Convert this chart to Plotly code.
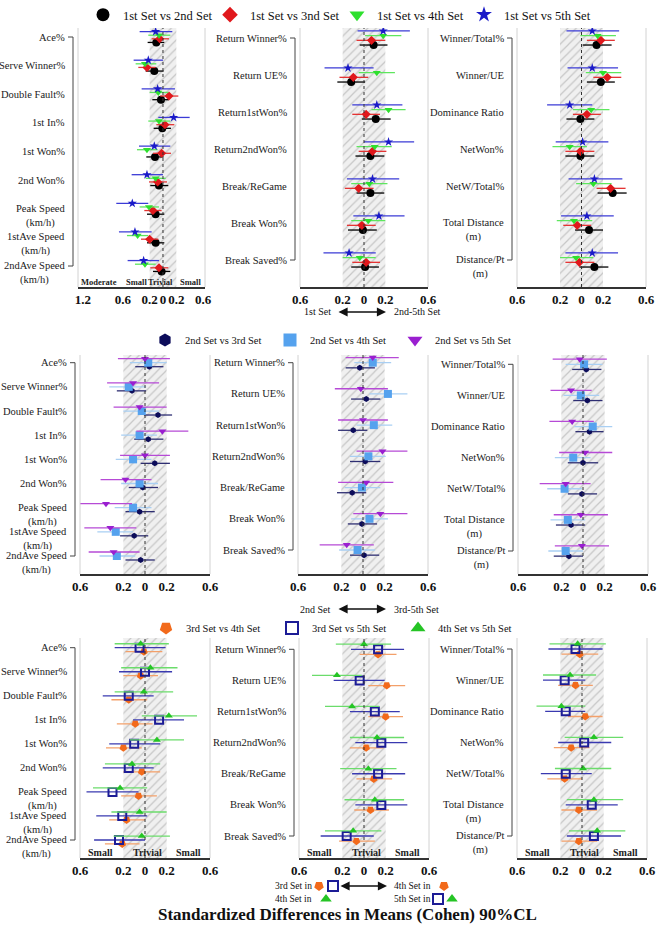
import plotly.graph_objects as go

W, H = 658, 930
FONT = "Liberation Serif, Times New Roman, serif"
TRIVIAL = 0.2

# ---------------- categories ----------------
SERVE_CATS = ["Ace%", "Serve Winner%", "Double Fault%", "1st In%", "1st Won%", "2nd Won%",
              "Peak Speed<br>(km/h)", "1stAve Speed<br>(km/h)", "2ndAve Speed<br>(km/h)"]
RETURN_CATS = ["Return Winner%", "Return UE%", "Return1stWon%", "Return2ndWon%",
               "Break/ReGame", "Break Won%", "Break Saved%"]
OVERALL_CATS = ["Winner/Total%", "Winner/UE", "Dominance Ratio", "NetWon%", "NetW/Total%",
                "Total Distance<br>(m)", "Distance/Pt<br>(m)"]

# ---------------- data: Cohen d (mean) and 90% CL ----------------
# 1st Set vs 2nd Set
v12_serve = [-0.10, -0.13, -0.03, -0.01, -0.12, -0.06, -0.11, -0.11, -0.02]
v12_serve_lo = [-0.23, -0.26, -0.16, -0.14, -0.25, -0.19, -0.24, -0.24, -0.15]
v12_serve_hi = [0.02, 0.01, 0.09, 0.12, 0.01, 0.08, 0.02, 0.02, 0.11]
v12_return = [0.09, -0.12, 0.11, 0.06, 0.06, -0.01, 0.01]
v12_return_lo = [-0.04, -0.25, -0.02, -0.08, -0.07, -0.15, -0.12]
v12_return_hi = [0.22, 0.01, 0.25, 0.19, 0.19, 0.12, 0.14]
v12_overall = [0.14, 0.18, -0.01, -0.01, 0.29, 0.07, 0.12]
v12_overall_lo = [0.01, 0.05, -0.14, -0.15, 0.15, -0.06, -0.02]
v12_overall_hi = [0.28, 0.31, 0.12, 0.12, 0.42, 0.20, 0.25]

# 1st Set vs 3rd Set
v13_serve = [-0.05, -0.24, 0.09, 0.03, -0.02, -0.08, -0.15, -0.20, -0.06]
v13_serve_lo = [-0.17, -0.37, -0.04, -0.10, -0.15, -0.21, -0.28, -0.33, -0.19]
v13_serve_hi = [0.09, -0.11, 0.23, 0.17, 0.12, 0.06, -0.02, -0.07, 0.08]
v13_return = [0.07, -0.10, 0.02, 0.08, -0.05, -0.02, 0.02]
v13_return_lo = [-0.07, -0.23, -0.11, -0.05, -0.18, -0.16, -0.11]
v13_return_hi = [0.20, 0.04, 0.15, 0.21, 0.09, 0.11, 0.15]
v13_overall = [0.18, 0.24, 0.05, -0.01, 0.27, -0.04, -0.02]
v13_overall_lo = [0.05, 0.11, -0.08, -0.15, 0.14, -0.17, -0.15]
v13_overall_hi = [0.31, 0.37, 0.18, 0.12, 0.41, 0.09, 0.12]

# 1st Set vs 4th Set
v14_serve = [-0.06, -0.27, -0.07, -0.06, -0.24, -0.11, -0.21, -0.38, -0.27]
v14_serve_lo = [-0.22, -0.41, -0.20, -0.22, -0.39, -0.26, -0.35, -0.54, -0.42]
v14_serve_hi = [0.11, -0.10, 0.08, 0.11, -0.08, 0.04, -0.06, -0.22, -0.11]
v14_return = [0.18, 0.12, 0.23, 0.10, 0.05, 0.04, -0.04]
v14_return_lo = [0.01, -0.05, 0.07, -0.07, -0.12, -0.12, -0.20]
v14_return_hi = [0.35, 0.29, 0.39, 0.26, 0.22, 0.20, 0.11]
v14_overall = [0.15, 0.20, 0.09, -0.11, 0.11, -0.07, -0.05]
v14_overall_lo = [-0.01, 0.04, -0.08, -0.27, -0.05, -0.23, -0.20]
v14_overall_hi = [0.32, 0.37, 0.26, 0.05, 0.28, 0.10, 0.11]

# 1st Set vs 5th Set
v15_serve = [-0.11, -0.22, -0.08, 0.16, -0.13, -0.24, -0.46, -0.42, -0.29]
v15_serve_lo = [-0.35, -0.44, -0.32, -0.07, -0.36, -0.47, -0.70, -0.66, -0.53]
v15_serve_hi = [0.14, 0.00, 0.18, 0.40, 0.11, 0.00, -0.22, -0.17, -0.06]
v15_return = [0.18, -0.15, 0.12, 0.23, 0.08, 0.14, -0.14]
v15_return_lo = [-0.06, -0.37, -0.11, 0.00, -0.16, -0.10, -0.38]
v15_return_hi = [0.43, 0.09, 0.36, 0.47, 0.33, 0.38, 0.11]
v15_overall = [0.10, 0.10, -0.11, 0.01, 0.12, 0.05, 0.10]
v15_overall_lo = [-0.14, -0.13, -0.32, -0.24, -0.12, -0.19, -0.15]
v15_overall_hi = [0.35, 0.34, 0.10, 0.25, 0.38, 0.30, 0.34]

# 2nd Set vs 3rd Set
v23_serve = [0.04, -0.12, 0.12, 0.03, 0.09, -0.02, -0.05, -0.10, -0.04]
v23_serve_lo = [-0.09, -0.26, -0.01, -0.10, -0.04, -0.15, -0.18, -0.23, -0.18]
v23_serve_hi = [0.17, 0.01, 0.25, 0.17, 0.23, 0.12, 0.09, 0.03, 0.09]
v23_return = [-0.03, 0.03, -0.09, 0.02, -0.10, -0.01, 0.01]
v23_return_lo = [-0.16, -0.11, -0.23, -0.12, -0.24, -0.14, -0.12]
v23_return_hi = [0.11, 0.16, 0.04, 0.16, 0.03, 0.13, 0.15]
v23_overall = [0.03, 0.04, 0.06, 0.00, -0.01, -0.11, -0.13]
v23_overall_lo = [-0.10, -0.09, -0.07, -0.14, -0.14, -0.25, -0.27]
v23_overall_hi = [0.17, 0.18, 0.19, 0.14, 0.13, 0.02, 0.00]

# 2nd Set vs 4th Set
v24_serve = [0.03, -0.15, -0.03, -0.05, -0.11, -0.05, -0.11, -0.27, -0.26]
v24_serve_lo = [-0.14, -0.33, -0.20, -0.22, -0.27, -0.22, -0.28, -0.44, -0.42]
v24_serve_hi = [0.20, 0.01, 0.13, 0.11, 0.06, 0.12, 0.06, -0.11, -0.09]
v24_return = [0.09, 0.23, 0.10, 0.05, -0.01, 0.06, -0.05]
v24_return_lo = [-0.08, 0.06, -0.06, -0.12, -0.17, -0.11, -0.22]
v24_return_hi = [0.26, 0.41, 0.27, 0.21, 0.16, 0.23, 0.11]
v24_overall = [0.01, -0.02, 0.09, -0.09, -0.17, -0.14, -0.16]
v24_overall_lo = [-0.16, -0.18, -0.08, -0.26, -0.33, -0.30, -0.32]
v24_overall_hi = [0.18, 0.15, 0.27, 0.07, -0.01, 0.02, 0.00]

# 2nd Set vs 5th Set
v25_serve = [0.00, -0.11, -0.05, 0.16, 0.00, -0.18, -0.36, -0.32, -0.29]
v25_serve_lo = [-0.25, -0.35, -0.29, -0.08, -0.23, -0.41, -0.60, -0.56, -0.52]
v25_serve_hi = [0.23, 0.13, 0.20, 0.40, 0.23, 0.06, -0.12, -0.08, -0.05]
v25_return = [0.09, -0.02, 0.00, 0.18, 0.03, 0.16, -0.15]
v25_return_lo = [-0.16, -0.26, -0.23, -0.06, -0.23, -0.09, -0.40]
v25_return_hi = [0.33, 0.23, 0.23, 0.41, 0.28, 0.41, 0.10]
v25_overall = [-0.03, -0.11, -0.10, 0.02, -0.16, -0.02, -0.01]
v25_overall_lo = [-0.28, -0.30, -0.31, -0.22, -0.40, -0.27, -0.26]
v25_overall_hi = [0.22, 0.08, 0.10, 0.27, 0.07, 0.23, 0.24]

# 3rd Set vs 4th Set
v34_serve = [-0.01, -0.04, -0.15, -0.09, -0.20, -0.03, -0.06, -0.17, -0.21]
v34_serve_lo = [-0.18, -0.20, -0.31, -0.26, -0.36, -0.20, -0.22, -0.33, -0.37]
v34_serve_hi = [0.16, 0.12, 0.02, 0.07, -0.03, 0.14, 0.11, 0.00, -0.05]
v34_return = [0.13, 0.21, 0.20, 0.02, 0.09, 0.06, -0.07]
v34_return_lo = [-0.04, 0.04, 0.04, -0.13, -0.07, -0.09, -0.23]
v34_return_hi = [0.30, 0.38, 0.36, 0.18, 0.26, 0.23, 0.10]
v34_overall = [-0.02, -0.06, 0.03, -0.10, -0.16, -0.03, -0.03]
v34_overall_lo = [-0.19, -0.22, -0.13, -0.26, -0.32, -0.19, -0.19]
v34_overall_hi = [0.15, 0.10, 0.19, 0.07, 0.00, 0.14, 0.14]

# 3rd Set vs 5th Set
v35_serve = [-0.05, 0.00, -0.15, 0.13, -0.10, -0.15, -0.30, -0.21, -0.24]
v35_serve_lo = [-0.28, -0.24, -0.39, -0.11, -0.33, -0.39, -0.54, -0.45, -0.47]
v35_serve_hi = [0.19, 0.25, 0.08, 0.36, 0.14, 0.08, -0.06, 0.02, 0.00]
v35_return = [0.13, -0.04, 0.10, 0.16, 0.13, 0.16, -0.16]
v35_return_lo = [-0.12, -0.28, -0.13, -0.08, -0.11, -0.08, -0.40]
v35_return_hi = [0.37, 0.19, 0.33, 0.40, 0.38, 0.40, 0.09]
v35_overall = [-0.06, -0.16, -0.15, 0.02, -0.15, 0.09, 0.11]
v35_overall_lo = [-0.31, -0.36, -0.34, -0.22, -0.38, -0.15, -0.14]
v35_overall_hi = [0.19, 0.03, 0.03, 0.27, 0.09, 0.33, 0.36]

# 4th Set vs 5th Set
v45_serve = [-0.04, 0.05, -0.01, 0.22, 0.11, -0.12, -0.23, -0.05, -0.03]
v45_serve_lo = [-0.28, -0.22, -0.28, -0.03, -0.14, -0.37, -0.48, -0.31, -0.29]
v45_serve_hi = [0.22, 0.30, 0.26, 0.48, 0.36, 0.14, 0.02, 0.20, 0.23]
v45_return = [0.00, -0.25, -0.11, 0.12, 0.04, 0.10, -0.10]
v45_return_lo = [-0.26, -0.48, -0.36, -0.13, -0.22, -0.18, -0.36]
v45_return_hi = [0.25, -0.02, 0.14, 0.37, 0.30, 0.37, 0.16]
v45_overall = [-0.04, -0.11, -0.19, 0.11, 0.01, 0.11, 0.14]
v45_overall_lo = [-0.30, -0.36, -0.42, -0.16, -0.25, -0.14, -0.12]
v45_overall_hi = [0.22, 0.13, 0.03, 0.38, 0.27, 0.38, 0.40]

# tick labels
TICKS_WIDE = [-1.2, -0.6, -0.2, 0, 0.2, 0.6]
TICKTEXT_WIDE = ["1.2", "0.6", "0.2", "0", "0.2", "0.6"]
TICKS = [-0.6, -0.2, 0, 0.2, 0.6]
TICKTEXT = ["0.6", "0.2", "0", "0.2", "0.6"]

# ---------------- assemble tables (from the lists above) ----------------
DATA = {
    "v12": [(v12_serve, v12_serve_lo, v12_serve_hi), (v12_return, v12_return_lo, v12_return_hi), (v12_overall, v12_overall_lo, v12_overall_hi)],
    "v13": [(v13_serve, v13_serve_lo, v13_serve_hi), (v13_return, v13_return_lo, v13_return_hi), (v13_overall, v13_overall_lo, v13_overall_hi)],
    "v14": [(v14_serve, v14_serve_lo, v14_serve_hi), (v14_return, v14_return_lo, v14_return_hi), (v14_overall, v14_overall_lo, v14_overall_hi)],
    "v15": [(v15_serve, v15_serve_lo, v15_serve_hi), (v15_return, v15_return_lo, v15_return_hi), (v15_overall, v15_overall_lo, v15_overall_hi)],
    "v23": [(v23_serve, v23_serve_lo, v23_serve_hi), (v23_return, v23_return_lo, v23_return_hi), (v23_overall, v23_overall_lo, v23_overall_hi)],
    "v24": [(v24_serve, v24_serve_lo, v24_serve_hi), (v24_return, v24_return_lo, v24_return_hi), (v24_overall, v24_overall_lo, v24_overall_hi)],
    "v25": [(v25_serve, v25_serve_lo, v25_serve_hi), (v25_return, v25_return_lo, v25_return_hi), (v25_overall, v25_overall_lo, v25_overall_hi)],
    "v34": [(v34_serve, v34_serve_lo, v34_serve_hi), (v34_return, v34_return_lo, v34_return_hi), (v34_overall, v34_overall_lo, v34_overall_hi)],
    "v35": [(v35_serve, v35_serve_lo, v35_serve_hi), (v35_return, v35_return_lo, v35_return_hi), (v35_overall, v35_overall_lo, v35_overall_hi)],
    "v45": [(v45_serve, v45_serve_lo, v45_serve_hi), (v45_return, v45_return_lo, v45_return_hi), (v45_overall, v45_overall_lo, v45_overall_hi)],
}
NAMES = {"v12": "1st Set vs 2nd Set", "v13": "1st Set vs 3nd Set", "v14": "1st Set vs 4th Set",
         "v15": "1st Set vs 5th Set", "v23": "2nd Set vs 3rd Set", "v24": "2nd Set vs 4th Set",
         "v25": "2nd Set vs 5th Set", "v34": "3rd Set vs 4th Set", "v35": "3rd Set vs 5th Set",
         "v45": "4th Set vs 5th Set"}
PANEL_CATS = [SERVE_CATS, RETURN_CATS, OVERALL_CATS]

# ---------------- styles ----------------
STYLE = {
    "v12": dict(symbol="circle", size=8, color="#000000", err="#000000", leg=13),
    "v13": dict(symbol="diamond", size=7, color="#e0181c", err="#e43434", leg=12),
    "v14": dict(symbol="triangle-down", size=7, color="#2ee02e", err="#5ee65e", leg=13),
    "v15": dict(symbol="star", size=7, color="#1a1ac8", err="#3b3bd6", leg=12),
    "v23": dict(symbol="hexagon", size=6, color="#0c0c5a", err="#2e2e72", leg=13),
    "v24": dict(symbol="square", size=8, color="#55a2ee", err="#a9cff3", leg=13),
    "v25": dict(symbol="triangle-down", size=7, color="#9a1fd0", err="#b64ad6", leg=13),
    "v34": dict(symbol="pentagon", angle=180, size=8, color="#f26a1b", err="#f3a06a", leg=13),
    "v35": dict(symbol="square-open", size=8, color="#1c1c96", err="#3a3ab0", leg=12, lw=2),
    "v45": dict(symbol="triangle-up", size=7, color="#25c425", err="#6bdc6b", leg=13),
}

ROWS = [
    dict(top=28, bot=287, cols=[(78, 205), (300, 428), (517, 646)],
         centers=[(37, 266), (38, 260), (38, 260)],
         xranges=[[-1.274, 0.63], [-0.6, 0.6], [-0.6, 0.6]],
         series=["v12", "v13", "v14", "v15"], offsets=[0.19, 0.063, -0.063, -0.19],
         legend="legend", leg_x=83, leg_y=15, leg_w=82, leg_font=12.5),
    dict(top=355, bot=574, cols=[(80, 210), (298, 428), (518, 648)],
         centers=[(362.7, 556), (362.7, 550), (364.3, 551)],
         xranges=[[-0.6, 0.6], [-0.6, 0.6], [-0.6, 0.6]],
         series=["v23", "v24", "v25"], offsets=[0.165, 0.0, -0.165],
         legend="legend2", leg_x=145, leg_y=340, leg_w=80, leg_font=10.5),
    dict(top=638, bot=858, cols=[(80, 210), (299, 429), (517, 647)],
         centers=[(647.7, 840), (649.3, 836), (649, 836)],
         xranges=[[-0.6, 0.6], [-0.6, 0.6], [-0.6, 0.6]],
         series=["v34", "v35", "v45"], offsets=[0.165, 0.0, -0.165],
         legend="legend3", leg_x=146, leg_y=628, leg_w=81, leg_font=10.5),
]

ZONES_R1 = ["Moderate", "Small", "Trivial", "Small"]
ZONES_R1_X = [-0.96, -0.40, -0.03, 0.42]
ZONES_R3 = ["Small", "Trivial", "Small"]
ZONES_R3_X = [-0.41, 0.02, 0.4]


def px(p):
    return p / W


def py(p):
    return 1 - p / H


fig = go.Figure()
layout = dict(width=W, height=H, margin=dict(l=0, r=0, t=0, b=0, autoexpand=False), paper_bgcolor="white",
              plot_bgcolor="rgba(0,0,0,0)", font=dict(family=FONT, color="#111"),
              showlegend=True, hovermode=False)
shapes, annos = [], []

ax = 0
for r, row in enumerate(ROWS):
    for c in range(3):
        ax += 1
        sfx = "" if ax == 1 else str(ax)
        xa, ya = "x" + sfx, "y" + sfx
        xl, xr = row["cols"][c]
        cats = PANEL_CATS[c]
        n = len(cats)
        c0, cN = row["centers"][c]
        s = (cN - c0) / (n - 1)
        ytop = -(c0 - row["top"]) / s
        ybot = (n - 1) + (row["bot"] - cN) / s
        wide = (r == 0 and c == 0)
        layout["xaxis" + sfx] = dict(
            domain=[px(xl), px(xr)], range=row["xranges"][c], anchor=ya,
            showgrid=False, zeroline=False, showline=True, linecolor="#333", linewidth=1.6,
            ticks="", tickangle=0, automargin=False,
            tickvals=TICKS_WIDE if wide else TICKS, ticktext=TICKTEXT_WIDE if wide else TICKTEXT,
            tickfont=dict(family=FONT, size=13, color="#111", weight="bold"), fixedrange=True)
        layout["yaxis" + sfx] = dict(domain=[py(row["bot"]), py(row["top"])], range=[ybot, ytop],
                                     anchor=xa, visible=False, fixedrange=True)
        # trivial zone (hatched)
        fig.add_trace(go.Scatter(
            x=[-TRIVIAL, TRIVIAL, TRIVIAL, -TRIVIAL, -TRIVIAL], y=[ytop, ytop, ybot, ybot, ytop],
            xaxis=xa, yaxis=ya, mode="lines", line=dict(width=0), fill="toself",
            fillcolor="#f0f0f0",
            fillpattern=dict(shape="/", fgcolor="#9c9c9c", bgcolor="#f0f0f0", size=6, solidity=0.2),
            hoverinfo="skip", showlegend=False))
        # border lines & zero line
        for xd in (0, 1):
            shapes.append(dict(type="line", xref=xa + " domain", yref=ya + " domain", x0=xd, x1=xd,
                               y0=0, y1=1, line=dict(color="#d2d2d2", width=1)))
        shapes.append(dict(type="line", xref=xa, yref=ya + " domain", x0=0, x1=0, y0=0, y1=1,
                           line=dict(color="#333", width=1, dash="dot")))
        # bracket
        bx = px(xl - 5)
        shapes.append(dict(type="line", xref="paper", yref=ya, x0=bx, x1=bx, y0=0, y1=n - 1,
                           line=dict(color="#444", width=1)))
        for yv in (0, n - 1):
            shapes.append(dict(type="line", xref="paper", yref=ya, x0=px(xl - 10), x1=bx, y0=yv, y1=yv,
                               line=dict(color="#444", width=1)))
        # category labels
        for i, lab in enumerate(cats):
            two = "<br>" in lab
            annos.append(dict(text=lab, xref="paper", x=px(xl - 11), xanchor="right",
                              yref=ya, y=i, yanchor="top" if two else "middle",
                              yshift=8 if two else 0, showarrow=False, align="center",
                              font=dict(family=FONT, size=10.5, color="#1a1a1a")))
        # series
        for key, off in zip(row["series"], row["offsets"]):
            m, lo, hi = DATA[key][c]
            st = STYLE[key]
            fig.add_trace(go.Scatter(
                x=m, y=[i + off for i in range(n)], xaxis=xa, yaxis=ya, mode="markers",
                marker=dict(symbol=st["symbol"], size=st["size"], color=st["color"],
                            angle=st.get("angle", 0),
                            line=dict(width=st.get("lw", 0), color=st["color"])),
                error_x=dict(type="data", symmetric=False,
                             array=[h - v for h, v in zip(hi, m)],
                             arrayminus=[v - l for v, l in zip(m, lo)],
                             color=st["err"], thickness=1.3, width=0),
                showlegend=False, hoverinfo="skip"))
        # effect-size zone labels
        if wide or r == 2:
            labs, xs = (ZONES_R1, ZONES_R1_X) if wide else (ZONES_R3, ZONES_R3_X)
            for lab, xv in zip(labs, xs):
                annos.append(dict(text="<b>" + lab + "</b>", xref=xa, x=xv, yref=ya + " domain", y=0,
                                  yanchor="bottom", yshift=-1, showarrow=False, borderpad=0,
                                  font=dict(family=FONT, size=8.5 if wide else 10, color="#222")))
    # legend entries for the row
    for key in row["series"]:
        st = STYLE[key]
        fig.add_trace(go.Scatter(
            x=[None], y=[None], xaxis="x" + str(ax), yaxis="y" + str(ax), mode="markers",
            name=NAMES[key], legend=row["legend"],
            marker=dict(symbol=st["symbol"], size=st["leg"], color=st["color"], angle=st.get("angle", 0),
                        line=dict(width=st.get("lw", 0), color=st["color"]))))
    layout[row["legend"]] = dict(orientation="h", x=px(row["leg_x"]), y=py(row["leg_y"]),
                                 xanchor="left", yanchor="middle", entrywidth=row["leg_w"],
                                 entrywidthmode="pixels", bgcolor="rgba(0,0,0,0)",
                                 font=dict(family=FONT, size=row["leg_font"], color="#111"),
                                 itemclick=False, itemdoubleclick=False, traceorder="normal")

# direction arrows
ARROWS = [(312, "1st Set", "2nd-5th Set"), (609, "2nd Set", "3rd-5th Set")]
for yy, lt, rt in ARROWS:
    annos.append(dict(text=lt, xref="paper", yref="paper", x=px(332), y=py(yy), xanchor="right",
                      yanchor="middle", borderpad=0, showarrow=False,
                      font=dict(family=FONT, size=10, color="#111")))
    annos.append(dict(text=rt, xref="paper", yref="paper", x=px(393), y=py(yy), xanchor="left",
                      yanchor="middle", borderpad=0, showarrow=False,
                      font=dict(family=FONT, size=10, color="#111")))
    annos.append(dict(text="", xref="paper", yref="paper", x=px(386), y=py(yy), ax=-49, ay=0,
                      axref="pixel", ayref="pixel", showarrow=True, arrowside="end+start",
                      arrowhead=2, arrowsize=1.3, arrowwidth=1.4, arrowcolor="#111"))

# bottom key
KEY_TEXT = [(313, 886, "3rd Set in", "right"), (393, 886, "4th Set in", "left"),
            (313, 899, "4th Set in", "right"), (393, 899, "5th Set in", "left")]
for xx, yy, t, anc in KEY_TEXT:
    annos.append(dict(text=t, xref="paper", yref="paper", x=px(xx), y=py(yy), xanchor=anc,
                      yanchor="middle", borderpad=0,
                      showarrow=False, font=dict(family=FONT, size=9.5, color="#111")))
annos.append(dict(text="", xref="paper", yref="paper", x=px(387), y=py(886), ax=-48, ay=0,
                  axref="pixel", ayref="pixel", showarrow=True, arrowside="end+start",
                  arrowhead=2, arrowsize=1.3, arrowwidth=1.4, arrowcolor="#111"))
layout["xaxis10"] = dict(domain=[0, 1], range=[0, W], visible=False, anchor="y10", fixedrange=True)
layout["yaxis10"] = dict(domain=[0, 1], range=[H, 0], visible=False, anchor="x10", fixedrange=True)
KEY_MARKS = [("v34", 319, 886), ("v35", 333, 886), ("v34", 444, 886),
             ("v45", 326, 899), ("v35", 438, 899), ("v45", 452, 899)]
for key, xx, yy in KEY_MARKS:
    st = STYLE[key]
    fig.add_trace(go.Scatter(x=[xx], y=[yy], xaxis="x10", yaxis="y10", mode="markers",
                             marker=dict(symbol=st["symbol"], size=10, color=st["color"],
                                         angle=st.get("angle", 0),
                                         line=dict(width=st.get("lw", 0), color=st["color"])),
                             showlegend=False, hoverinfo="skip"))

annos.append(dict(text="<b>Standardized Differences in Means (Cohen) 90%CL</b>", xref="paper",
                  yref="paper", x=px(347), y=py(914), xanchor="center", yanchor="middle", showarrow=False,
                  font=dict(family=FONT, size=17, color="#111")))

layout["shapes"] = shapes
layout["annotations"] = annos
fig.update_layout(**layout)
fig.write_html("out.html", config={"displayModeBar": False, "staticPlot": True},
               post_script="document.body.style.margin='0';document.body.style.overflow='hidden';")
